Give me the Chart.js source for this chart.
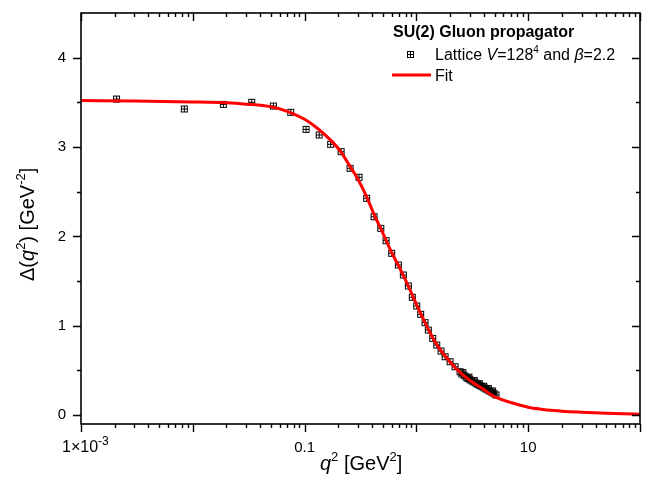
<!DOCTYPE html>
<html>
<head>
<meta charset="utf-8">
<script src="https://cdn.jsdelivr.net/npm/chart.js@4.4.1/dist/chart.umd.min.js"></script>
<style>
    body { margin: 0; background: #fff; }
    #wrap { width: 652px; height: 482px; }
</style>
</head>
<body>
<div id="wrap"><canvas id="chart" width="652" height="482"></canvas></div>
<script>
// lattice data, q^2 in GeV^2 and Delta(q^2) in GeV^-2
const latticeQ2 = [
    0.00208, 0.00839, 0.01875, 0.03365, 0.0525, 0.0751, 0.103, 0.135, 0.171, 0.212,
    0.255, 0.307, 0.359, 0.418, 0.480, 0.535, 0.601, 0.689, 0.764, 0.847,
    0.919, 1.007, 1.092, 1.194, 1.277, 1.399, 1.520, 1.660, 1.803, 1.999,
    2.215, 2.455, 2.55, 2.6, 2.67, 2.78, 2.89, 2.95, 3.01, 3.14,
    3.27, 3.3, 3.41, 3.55, 3.65, 3.70, 3.86, 4.0, 4.02, 4.19,
    4.36, 4.4, 4.55, 4.74, 4.8, 4.94, 5.15
];
const latticeDelta = [
    3.537, 3.426, 3.478, 3.501, 3.459, 3.389, 3.198, 3.135, 3.031, 2.948,
    2.762, 2.661, 2.426, 2.220, 2.090, 1.952, 1.811, 1.680, 1.568, 1.445,
    1.318, 1.221, 1.128, 1.034, 0.952, 0.859, 0.784, 0.717, 0.653, 0.597,
    0.541, 0.485, 0.46, 0.475, 0.445, 0.425, 0.41, 0.425, 0.395, 0.382,
    0.37, 0.385, 0.356, 0.343, 0.352, 0.33, 0.318, 0.323, 0.305, 0.292,
    0.28, 0.297, 0.267, 0.255, 0.27, 0.24, 0.225
];

// fit curve
const fitQ2 = [
    0.001, 0.003, 0.01, 0.02, 0.03, 0.05, 0.07, 0.1, 0.13, 0.17,
    0.21, 0.25, 0.3, 0.36, 0.42, 0.5, 0.6, 0.7, 0.8, 1.0,
    1.2, 1.5, 2.0, 2.5, 3.0, 4.0, 5.0, 6.0, 7.0, 8.5,
    10, 13, 17, 20, 30, 50, 70, 100
];
const fitDelta = [
    3.52, 3.515, 3.505, 3.495, 3.48, 3.45, 3.40, 3.31, 3.21, 3.08,
    2.95, 2.80, 2.64, 2.44, 2.24, 2.04, 1.82, 1.66, 1.51, 1.24,
    1.03, 0.80, 0.595, 0.47, 0.39, 0.285, 0.205, 0.168, 0.14, 0.11,
    0.088, 0.066, 0.05, 0.043, 0.032, 0.021, 0.015, 0.01
];

const xTickValues = [0.001, 0.1, 10];
const yTickValues = [0, 1, 2, 3, 4];

const FONT = '"Liberation Sans", Arial, sans-serif';

function makeMarker() {
    const c = document.createElement('canvas');
    c.width = 9;
    c.height = 9;
    const g = c.getContext('2d');
    g.strokeStyle = '#000';
    g.lineWidth = 1;
    g.strokeRect(1.5, 1.5, 6, 6);
    g.beginPath();
    g.moveTo(4.5, 1.5); g.lineTo(4.5, 7.5);
    g.moveTo(1.5, 4.5); g.lineTo(7.5, 4.5);
    g.stroke();
    return c;
}
const marker = makeMarker();

// draws a row of text pieces (italic / superscript) starting at x, returns end x
function drawRich(ctx, parts, x, y, size, supScale) {
    ctx.textAlign = 'left';
    ctx.textBaseline = 'alphabetic';
    for (const p of parts) {
        let s = p.sup ? Math.round(size * (supScale || 0.65)) : size;
        let st = (p.italic ? 'italic ' : '') + (p.bold ? 'bold ' : '');
        ctx.font = st + s + 'px ' + FONT;
        let yy = p.sup ? y - size * 0.45 : y;
        ctx.fillText(p.t, x, yy);
        x += ctx.measureText(p.t).width;
    }
    return x;
}

const framePlugin = {
    id: 'frame',
    afterDatasetsDraw(chart) {
        const ctx = chart.ctx;
        const a = chart.chartArea;
        const xs = chart.scales.x;
        const ys = chart.scales.y;
        ctx.save();
        ctx.strokeStyle = '#000';
        ctx.lineWidth = 1.6;
        ctx.strokeRect(a.left, a.top, a.right - a.left, a.bottom - a.top);

        ctx.lineWidth = 1.4;
        ctx.beginPath();
        // y ticks, left outward, right inward
        for (let v = 0; v < 4.5; v += 0.5) {
            let len = Number.isInteger(v) ? 8 : 4;
            let py = Math.round(ys.getPixelForValue(v)) + 0.5;
            ctx.moveTo(a.left, py); ctx.lineTo(a.left - len, py);
            ctx.moveTo(a.right, py); ctx.lineTo(a.right - len, py);
        }
        // x ticks, bottom outward, top inward
        for (let d = -3; d <= 2; d++) {
            for (let m = 1; m <= 9; m++) {
                if (d == 2 && m > 1) break;
                let v = m * Math.pow(10, d);
                let len = m == 1 ? 8 : 4;
                let px = Math.round(xs.getPixelForValue(v)) + 0.5;
                ctx.moveTo(px, a.bottom); ctx.lineTo(px, a.bottom + len);
                ctx.moveTo(px, a.top); ctx.lineTo(px, a.top + len);
            }
        }
        ctx.stroke();

        ctx.fillStyle = '#000';
        // first x label 1x10^-3
        drawRich(ctx, [{ t: '1\u00d710' }, { t: '-3', sup: true }], 62, 452, 16, 0.72);

        // axis titles
        drawRich(ctx, [{ t: 'q', italic: true }, { t: '2', sup: true }, { t: ' [GeV' }, { t: '2', sup: true }, { t: ']' }], 320, 470, 20);
        ctx.save();
        ctx.translate(34, 281);
        ctx.rotate(-Math.PI / 2);
        drawRich(ctx, [{ t: '\u0394(' }, { t: 'q', italic: true }, { t: '2', sup: true }, { t: ') [GeV' }, { t: '-2', sup: true }, { t: ']' }], 0, 0, 20);
        ctx.restore();

        // legend
        drawRich(ctx, [{ t: 'SU(2) Gluon propagator', bold: true }], 393, 37, 16);
        ctx.drawImage(marker, 406, 50);
        drawRich(ctx, [{ t: 'Lattice ' }, { t: 'V', italic: true }, { t: '=128' }, { t: '4', sup: true }, { t: ' and ' }, { t: '\u03b2', italic: true }, { t: '=2.2' }], 435, 60, 16);
        ctx.strokeStyle = '#ff0000';
        ctx.lineWidth = 3;
        ctx.beginPath();
        ctx.moveTo(392, 75); ctx.lineTo(431, 75);
        ctx.stroke();
        drawRich(ctx, [{ t: 'Fit' }], 435, 81, 16);
        ctx.restore();
    }
};

const latticePoints = latticeQ2.map((q, i) => ({ x: q, y: latticeDelta[i] }));
const fitPoints = fitQ2.map((q, i) => ({ x: q, y: fitDelta[i] }));

new Chart(document.getElementById('chart').getContext('2d'), {
    type: 'scatter',
    data: {
        datasets: [{
            label: 'Lattice',
            data: latticePoints,
            pointStyle: marker,
            order: 1
        }, {
            label: 'Fit',
            data: fitPoints,
            showLine: true,
            pointRadius: 0,
            borderColor: '#ff0000',
            borderWidth: 3,
            cubicInterpolationMode: 'monotone',
            order: 0
        }]
    },
    options: {
        responsive: false,
        animation: false,
        layout: { padding: { left: 0, right: 12, top: 13, bottom: 0 } },
        plugins: { legend: { display: false }, tooltip: { enabled: false } },
        scales: {
            x: {
                type: 'logarithmic',
                min: 0.001,
                max: 100,
                grid: { display: false },
                border: { display: false },
                afterBuildTicks: (scale) => { scale.ticks = xTickValues.map(v => ({ value: v })); },
                afterFit: (scale) => {
                    scale.height = 58;
                    scale.paddingLeft = 0;
                    scale.paddingRight = 0;
                },
                ticks: {
                    padding: 7,
                    color: '#000',
                    font: { family: FONT, size: 15 },
                    maxRotation: 0,
                    autoSkip: false,
                    callback: (v) => v === 0.1 ? '0.1' : (v === 10 ? '10' : '')
                }
            },
            y: {
                min: -0.1,
                max: 4.5,
                grid: { display: false },
                border: { display: false },
                afterBuildTicks: (scale) => { scale.ticks = yTickValues.map(v => ({ value: v })); },
                afterFit: (scale) => {
                    scale.width = 81;
                    scale.paddingTop = 0;
                    scale.paddingBottom = 0;
                },
                ticks: {
                    padding: 7,
                    color: '#000',
                    font: { family: FONT, size: 15 }
                }
            }
        }
    },
    plugins: [framePlugin]
});
</script>
</body>
</html>
